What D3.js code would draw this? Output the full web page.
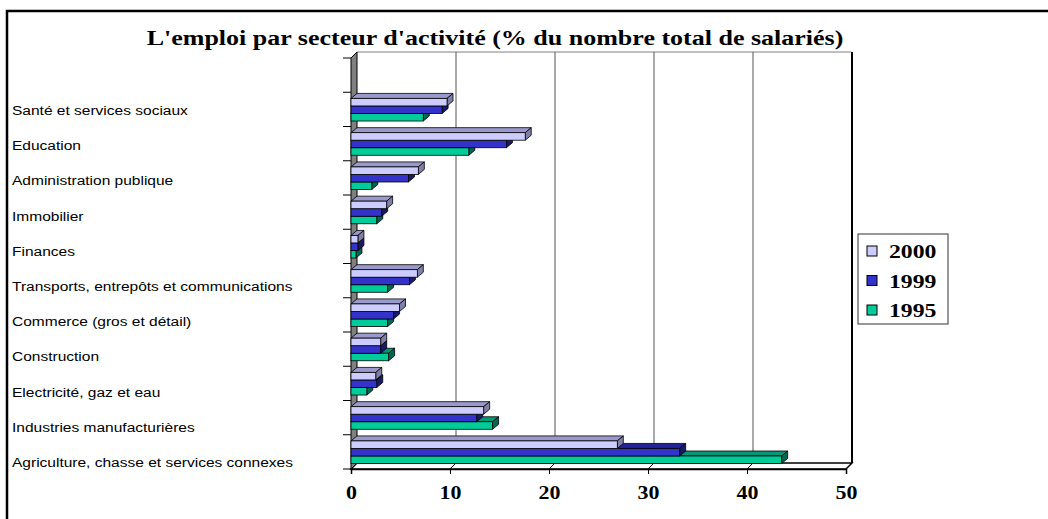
<!DOCTYPE html>
<html>
<head>
<meta charset="utf-8">
<script src="https://cdn.jsdelivr.net/npm/d3@7"></script>
<style>
  body { margin: 0; background: #fff; }
  svg { display: block; }
</style>
</head>
<body>
<div id="chart"></div>
<script>
// ---- data ----
const categories = [
  "Agriculture, chasse et services connexes",
  "Industries manufacturières",
  "Electricité, gaz et eau",
  "Construction",
  "Commerce (gros et détail)",
  "Transports, entrepôts et communications",
  "Finances",
  "Immobilier",
  "Administration publique",
  "Education",
  "Santé et services sociaux",
  ""
];
const series = ["2000", "1999", "1995"];
const values2000 = [26.9, 13.4, 2.5, 3.0, 4.9, 6.7, 0.7, 3.6, 6.8, 17.6, 9.7];
const values1999 = [33.2, 12.7, 2.6, 3.0, 4.3, 5.9, 0.7, 3.1, 5.8, 15.7, 9.2];
const values1995 = [43.5, 14.3, 1.6, 3.8, 3.7, 3.7, 0.5, 2.6, 2.1, 11.9, 7.3];
const xTicks = [0, 10, 20, 30, 40, 50];
const title = "L'emploi par secteur d'activité (% du nombre total de salariés)";

// ---- colours ----
const colors = {
  "2000": { front: "#CCCCFF", top: "#9999CC", side: "#7F7FA8" },
  "1999": { front: "#3333CC", top: "#222299", side: "#1A1A66" },
  "1995": { front: "#00CC99", top: "#009977", side: "#006650" }
};
const valuesBySeries = { "2000": values2000, "1999": values1999, "1995": values1995 };

// ---- layout ----
const W = 1048, H = 519;
const depth = { dx: 6, dy: -6 };   // wall depth
const bdepth = { dx: 6, dy: -5 };  // bar depth

const svg = d3.select("#chart").append("svg")
  .attr("width", W).attr("height", H);

// outer frame (runs off right/bottom)
svg.append("rect")
  .attr("x", 7).attr("y", 11)
  .attr("width", 1100).attr("height", 600)
  .attr("fill", "none").attr("stroke", "#000").attr("stroke-width", 2.5);

const x = d3.scaleLinear().domain([0, 50]).range([351, 846]);
const y = d3.scaleBand().domain(categories.slice().reverse()).range([58, 469]).padding(0);
const band = y.bandwidth();
const x0 = x(0), yTop = y.range()[0], yBot = y.range()[1];

// back wall top + gridlines
const g = svg.append("g");
g.append("line")
  .attr("x1", x0 + depth.dx).attr("x2", x(50) + depth.dx)
  .attr("y1", yTop + depth.dy).attr("y2", yTop + depth.dy)
  .attr("stroke", "#808080").attr("stroke-width", 1);
g.selectAll(".grid").data(xTicks.slice(1, -1)).join("line")
  .attr("class", "grid")
  .attr("x1", d => x(d) + depth.dx).attr("x2", d => x(d) + depth.dx)
  .attr("y1", yTop + depth.dy).attr("y2", yBot + depth.dy)
  .attr("stroke", "#555").attr("stroke-width", 1);
// right edge of back wall
g.append("line")
  .attr("x1", x(50) + depth.dx).attr("x2", x(50) + depth.dx)
  .attr("y1", yTop + depth.dy).attr("y2", yBot + depth.dy)
  .attr("stroke", "#000").attr("stroke-width", 2);

// floor
const floorPts = [[x0, yBot], [x0 + depth.dx, yBot + depth.dy], [x(50) + depth.dx, yBot + depth.dy], [x(50), yBot]];
g.append("polygon")
  .attr("points", floorPts.map(p => p.join(",")).join(" "))
  .attr("fill", "#fff").attr("stroke", "#000").attr("stroke-width", 1.5);
g.selectAll(".floorTick").data(xTicks).join("line")
  .attr("class", "floorTick")
  .attr("x1", d => x(d)).attr("x2", d => x(d) + depth.dx)
  .attr("y1", yBot).attr("y2", yBot + depth.dy)
  .attr("stroke", "#000").attr("stroke-width", 1);

// left wall
const wallPts = [[x0, yTop], [x0 + depth.dx, yTop + depth.dy], [x0 + depth.dx, yBot + depth.dy], [x0, yBot]];
g.append("polygon")
  .attr("points", wallPts.map(p => p.join(",")).join(" "))
  .attr("fill", "#808080").attr("stroke", "#000").attr("stroke-width", 1);

// left axis tick marks at band boundaries
const bounds = d3.range(categories.length + 1).map(i => yTop + i * band);
g.selectAll(".ytick").data(bounds).join("line")
  .attr("class", "ytick")
  .attr("x1", x0 - 8).attr("x2", x0)
  .attr("y1", d => d).attr("y2", d => d)
  .attr("stroke", "#000").attr("stroke-width", 1);

// bars (draw bottom series first so upper bars cover hidden faces)
const barH = band * 0.22;
const barOff = band * 0.18;
const barsG = svg.append("g");
categories.slice(0, values2000.length).forEach((cat, ci) => {
  const t = y(cat);
  ["1995", "1999", "2000"].forEach(s => {
    const si = series.indexOf(s);
    const v = valuesBySeries[s][ci];
    const y0 = t + barOff + si * barH, y1 = y0 + barH;
    const xa = x0, xb = x(v);
    const c = colors[s];
    const bg = barsG.append("g");
    // top face
    bg.append("polygon")
      .attr("points", [[xa, y0], [xa + bdepth.dx, y0 + bdepth.dy], [xb + bdepth.dx, y0 + bdepth.dy], [xb, y0]].map(p => p.join(",")).join(" "))
      .attr("fill", c.top).attr("stroke", "#000").attr("stroke-width", 0.8).attr("stroke-linejoin", "round");
    // side face
    bg.append("polygon")
      .attr("points", [[xb, y0], [xb + bdepth.dx, y0 + bdepth.dy], [xb + bdepth.dx, y1 + bdepth.dy], [xb, y1]].map(p => p.join(",")).join(" "))
      .attr("fill", c.side).attr("stroke", "#000").attr("stroke-width", 0.8).attr("stroke-linejoin", "round");
    // front face
    bg.append("rect")
      .attr("x", xa).attr("y", y0)
      .attr("width", xb - xa).attr("height", barH)
      .attr("fill", c.front).attr("stroke", "#000").attr("stroke-width", 0.8);
  });
});

// front x axis
const xAxis = svg.append("g")
  .attr("transform", `translate(0,${yBot})`)
  .call(d3.axisBottom(x).tickValues(xTicks).tickSize(5).tickFormat(d3.format("d")));
xAxis.select(".domain").attr("stroke", "#000").attr("stroke-width", 1.5);
xAxis.selectAll(".tick line").attr("stroke", "#000");
xAxis.selectAll(".tick text")
  .attr("fill", "#000")
  .attr("y", 0).attr("dy", null)
  .attr("transform", "translate(0,30) scale(1.22,1)")
  .style("font-family", "'Liberation Serif', 'Times New Roman', serif")
  .style("font-weight", "bold")
  .style("font-size", "18px");

// category labels (spaced slightly wider than the bands, as in the original)
const labelCats = categories.filter(c => c);
const labelY = d3.scalePoint().domain(labelCats).range([462, 110]);
svg.selectAll(".catLabel").data(labelCats).join("text")
  .attr("class", "catLabel")
  .attr("transform", d => `translate(12,${labelY(d) + 5}) scale(1.15,1)`)
  .style("font-family", "'Liberation Sans', Arial, sans-serif")
  .style("font-size", "13.5px")
  .attr("fill", "#000")
  .text(d => d);

// title
svg.append("text")
  .attr("transform", "translate(495,45) scale(1.3,1)")
  .attr("text-anchor", "middle")
  .style("font-family", "'Liberation Serif', 'Times New Roman', serif")
  .style("font-weight", "bold")
  .style("font-size", "20px")
  .text(title);

// legend
const lg = svg.append("g").attr("transform", "translate(858,234)");
lg.append("rect")
  .attr("width", 90).attr("height", 90)
  .attr("fill", "#fff").attr("stroke", "#333").attr("stroke-width", 1);
const rowY = d3.scalePoint().domain(series).range([17, 76]);
const items = lg.selectAll(".item").data(series).join("g")
  .attr("class", "item")
  .attr("transform", d => `translate(0,${rowY(d)})`);
items.append("rect")
  .attr("x", 9).attr("y", -5).attr("width", 10).attr("height", 10)
  .attr("fill", d => colors[d].front).attr("stroke", "#000").attr("stroke-width", 1);
items.append("text")
  .attr("transform", "translate(31,7) scale(1.25,1)")
  .style("font-family", "'Liberation Serif', 'Times New Roman', serif")
  .style("font-weight", "bold")
  .style("font-size", "19px")
  .text(d => d);
</script>
</body>
</html>
